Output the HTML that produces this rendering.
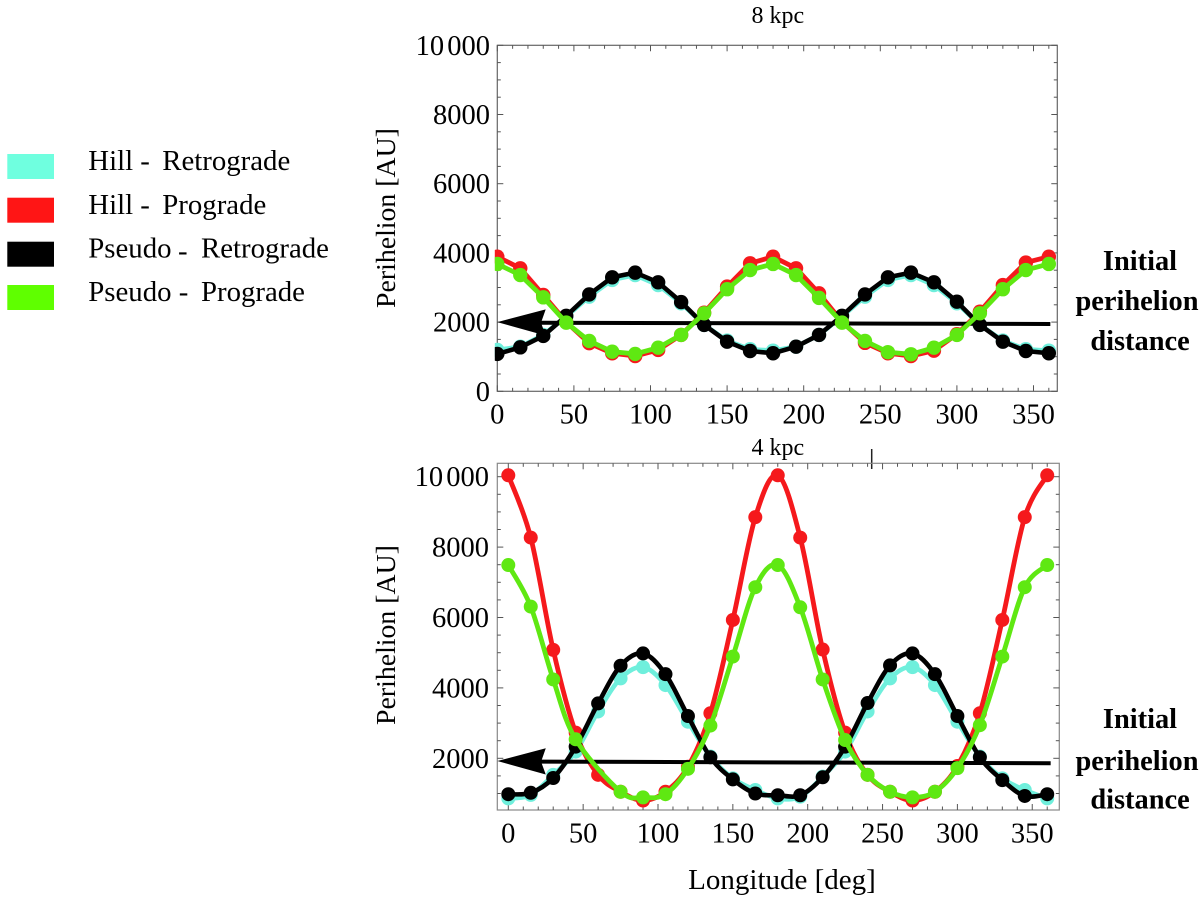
<!DOCTYPE html>
<html>
<head>
<meta charset="utf-8">
<title>Perihelion vs Longitude</title>
<style>
html,body{margin:0;padding:0;background:#fff;}
svg{display:block;font-family:"Liberation Serif",serif;}
</style>
</head>
<body>
<svg id="root" xmlns="http://www.w3.org/2000/svg" width="1200" height="900" viewBox="0 0 1200 900">
  <g font-size="28.8" fill="#000">
    <g>
      <rect x="7.3" y="154" width="46.7" height="25" fill="#6fffdf"/>
      <text x="88.3" y="170">Hill -</text>
      <text x="162.3" y="170">Retrograde</text>
    </g>
    <g>
      <rect x="7.3" y="197.7" width="46.7" height="25" fill="#ff1515"/>
      <text x="88.3" y="214">Hill -</text>
      <text x="162.3" y="214">Prograde</text>
    </g>
    <g>
      <rect x="7.3" y="241.7" width="46.7" height="25" fill="#000"/>
      <text x="88.3" y="257.7">Pseudo</text>
      <text x="178" y="260">-</text>
      <text x="201" y="257.7">Retrograde</text>
    </g>
    <g>
      <rect x="7.3" y="285" width="46.7" height="25" fill="#5fff00"/>
      <text x="88.3" y="301">Pseudo -</text>
      <text x="201" y="301">Prograde</text>
    </g>
  </g>
  <g font-size="28.4" font-weight="bold" text-anchor="middle">
    <text x="1140" y="270">Initial</text>
    <text x="1137" y="310">perihelion</text>
    <text x="1140" y="350">distance</text>
  </g>
  <g font-size="28.4" font-weight="bold" text-anchor="middle">
    <text x="1140" y="728">Initial</text>
    <text x="1137" y="770">perihelion</text>
    <text x="1140" y="808.3">distance</text>
  </g>
  <text x="782" y="889" font-size="29" text-anchor="middle">Longitude [deg]</text>
  <line x1="871.7" y1="449" x2="871.7" y2="469" stroke="#222" stroke-width="1.5"/>
</svg>
<script>
var longitudes = [0,15,30,45,60,75,90,105,120,135,150,165,180,195,210,225,240,255,270,285,300,315,330,345,360];

var top8Cyan  = [1195,1290,1630,2160,2735,3220,3360,3070,2545,1920,1465,1215,1175,1290,1630,2160,2735,3220,3360,3070,2545,1920,1465,1215,1175];
var top8Red   = [3890,3555,2785,2000,1390,1100,1020,1195,1630,2270,3025,3700,3890,3555,2830,2010,1400,1100,1020,1175,1650,2300,3070,3720,3890];
var top8Black = [1080,1270,1600,2180,2800,3295,3430,3150,2580,1920,1435,1165,1100,1290,1630,2180,2800,3295,3430,3150,2590,1920,1435,1165,1100];
var top8Green = [3680,3360,2715,1985,1455,1145,1080,1260,1630,2255,2950,3505,3680,3360,2700,1985,1455,1130,1070,1260,1630,2255,2950,3505,3680];

var bot4Cyan  = [860,960,1530,2190,3330,4270,4590,4080,3040,2050,1430,1100,860,910,1480,2190,3330,4270,4590,4080,3040,2050,1430,1100,860];
var bot4Red   = [10040,8270,5080,2730,1530,1050,800,1050,1760,3280,5930,8850,10040,8270,5090,2730,1530,1050,800,1050,1780,3280,5930,8850,10040];
var bot4Black = [980,1020,1440,2330,3560,4630,4980,4390,3200,2030,1400,1000,950,950,1460,2330,3570,4640,4980,4390,3200,2030,1380,930,980];
var bot4Green = [7490,6310,4240,2540,null,1050,890,980,1700,2930,4890,6860,7490,6290,4240,2520,1530,1050,890,1050,1720,2940,4890,6860,7490];

var topYTicks = [0,2000,4000,6000,8000,10000];
var topYTickLabels = ['0','2000','4000','6000','8000','10 000'];
var botYTicks = [2000,4000,6000,8000,10000];
var botYTickLabels = ['2000','4000','6000','8000','10 000'];
var xTicks = [0,50,100,150,200,250,300,350];
var xTickLabels = ['0','50','100','150','200','250','300','350'];

var topArrowStart = [0,2000];
var topArrowEnd = [361,1945];
var botArrowStart = [-7.3,1923];
var botArrowEnd = [362.3,1858];

var svgNS = 'http://www.w3.org/2000/svg';
var root = document.getElementById('root');

function mk(tag, attrs, parent){
  var el = document.createElementNS(svgNS, tag);
  for (var k in attrs) el.setAttribute(k, attrs[k]);
  parent.appendChild(el);
  return el;
}

function linePath(pts){
  return pts.map(function(p,i){return (i?'L':'M')+p[0].toFixed(2)+' '+p[1].toFixed(2);}).join(' ');
}
function smoothPath(pts){
  var d = 'M'+pts[0][0].toFixed(2)+' '+pts[0][1].toFixed(2);
  for (var i=0;i<pts.length-1;i++){
    var p0=pts[Math.max(i-1,0)],p1=pts[i],p2=pts[i+1],p3=pts[Math.min(i+2,pts.length-1)];
    var c1x=p1[0]+(p2[0]-p0[0])/6,c1y=p1[1]+(p2[1]-p0[1])/6;
    var c2x=p2[0]-(p3[0]-p1[0])/6,c2y=p2[1]-(p3[1]-p1[1])/6;
    d+=' C'+c1x.toFixed(2)+' '+c1y.toFixed(2)+' '+c2x.toFixed(2)+' '+c2y.toFixed(2)+' '+p2[0].toFixed(2)+' '+p2[1].toFixed(2);
  }
  return d;
}

function drawPanel(cfg){
  var xOf = function(v){return cfg.x0 + v*cfg.xScale;};
  var yOf = function(v){return cfg.y0 - v*cfg.yScale;};

  var panel = mk('g', {}, root);
  
  

  var clip = mk('clipPath', {id: cfg.name+'-clip'}, panel);
  mk('rect', {x: cfg.left-2.5, y: cfg.top-10, width: cfg.right-cfg.left+12, height: cfg.bottom-cfg.top+20}, clip);

  var frame = mk('rect', {x:cfg.left, y:cfg.top, width:cfg.right-cfg.left, height:cfg.bottom-cfg.top, fill:'none', stroke:cfg.frameColor, 'stroke-width':1.2}, panel);
  
  

  var ticks = mk('g', {stroke:'#555', 'stroke-width':1}, panel);
  
  
  var v, len, xp, yp, tk;
  for (v=0; v<=360; v+=10){
    len = v%50===0 ? 6 : 3.5;
    xp = xOf(v);
    tk = mk('line', {x1:xp, x2:xp, y1:cfg.bottom, y2:cfg.bottom-len}, ticks);
    
    
    tk = mk('line', {x1:xp, x2:xp, y1:cfg.top, y2:cfg.top+len}, ticks);
    
    
  }
  for (v=cfg.yMinorStart; v<=10000; v+=500){
    len = v%2000===0 ? 6 : 3.5;
    yp = yOf(v);
    tk = mk('line', {x1:cfg.left, x2:cfg.left+len, y1:yp, y2:yp}, ticks);
    
    
    tk = mk('line', {x1:cfg.right, x2:cfg.right-len, y1:yp, y2:yp}, ticks);
    
    
  }

  var i, t;
  for (i=0;i<cfg.yTicks.length;i++){
    t = mk('text', {x:cfg.yLabelX, y:yOf(cfg.yTicks[i])+9.5, 'font-size':28.5, 'text-anchor':'end', 'word-spacing':-4}, panel);
    
    
    t.textContent = cfg.yLabels[i];
  }
  for (i=0;i<xTicks.length;i++){
    t = mk('text', {x:xOf(xTicks[i]), y:cfg.xLabelY, 'font-size':28.5, 'text-anchor':'middle'}, panel);
    
    
    t.textContent = xTickLabels[i];
  }

  t = mk('text', {x:751.5, y:cfg.titleY, 'font-size':24}, panel);
  
  
  t.textContent = cfg.title;

  t = mk('text', {transform:'translate(395 '+cfg.yTitleCenter+') rotate(-90)', 'font-size':27.8, 'text-anchor':'middle'}, panel);
  
  
  t.textContent = 'Perihelion [AU]';

  var plot = mk('g', {'clip-path':'url(#'+cfg.name+'-clip)'}, panel);
  
  

  function drawSeries(values, color, width, seriesName){
    var g = mk('g', {}, plot);
    
    
    var pts = [];
    values.forEach(function(val, idx){
      if (val !== null) pts.push([xOf(longitudes[idx]), yOf(val)]);
    });
    var path = mk('path', {d: cfg.smooth ? smoothPath(pts) : linePath(pts), fill:'none', stroke:color, 'stroke-width':width, 'stroke-linejoin':'round'}, g);
    
    
    pts.forEach(function(p){
      var c = mk('circle', {cx:p[0], cy:p[1], r:cfg.r, fill:color}, g);
      
      
    });
  }

  drawSeries(cfg.cyan, '#6fefdc', 4.6, 'hill-retrograde-series');
  drawSeries(cfg.red, '#f5191c', 4.8, 'hill-prograde-series');
  drawSeries(cfg.black, '#000000', 4.6, 'pseudo-retrograde-series');

  var ax = xOf(cfg.arrowStart[0]), ay = yOf(cfg.arrowStart[1]);
  var ex = xOf(cfg.arrowEnd[0]), ey = yOf(cfg.arrowEnd[1]);
  var arrow = mk('g', {}, panel);
  
  
  var shaft = mk('line', {x1:ax+43, y1:ay+0.6, x2:ex, y2:ey, stroke:'#000', 'stroke-width':4}, arrow);
  
  
  var head = mk('polygon', {points:[ax,ay, ax+48.4,ay-12.7, ax+43.7,ay+0.7, ax+48.4,ay+13.5].join(' '), fill:'#000'}, arrow);
  
  

  var plot2 = mk('g', {'clip-path':'url(#'+cfg.name+'-clip)'}, panel);
  
  
  plot = plot2;
  drawSeries(cfg.green, '#5fe812', 4.8, 'pseudo-prograde-series');
}

drawPanel({
  name:'panel-8-kpc', title:'8 kpc', titleY:23,
  left:497.3, right:1057.3, top:45.3, bottom:391.3,
  x0:497.3, xScale:1.532, y0:391.3, yScale:0.0346,
  yTicks:topYTicks, yLabels:topYTickLabels, yLabelX:490, xLabelY:423.3,
  yTitleCenter:218, yMinorStart:0, frameColor:'#666', smooth:false, r:7.2,
  cyan:top8Cyan, red:top8Red, black:top8Black, green:top8Green,
  arrowStart:topArrowStart, arrowEnd:topArrowEnd
});
drawPanel({
  name:'panel-4-kpc', title:'4 kpc', titleY:455,
  left:497.3, right:1059.3, top:463.3, bottom:810,
  x0:508.3, xScale:1.497, y0:828.7, yScale:0.0352,
  yTicks:botYTicks, yLabels:botYTickLabels, yLabelX:489, xLabelY:842.7,
  yTitleCenter:635, yMinorStart:1000, frameColor:'#888', smooth:true, r:7,
  cyan:bot4Cyan, red:bot4Red, black:bot4Black, green:bot4Green,
  arrowStart:botArrowStart, arrowEnd:botArrowEnd
});
</script>
</body>
</html>
